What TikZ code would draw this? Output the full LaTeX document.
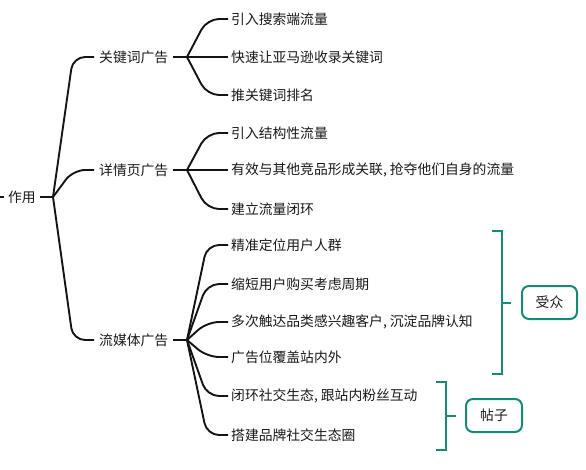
\documentclass[tikz,border=0pt]{standalone}
\usepackage{fontspec}
\newfontfamily\cjk{Noto Sans CJK SC}
\definecolor{textc}{RGB}{25,25,25}
\definecolor{tealc}{RGB}{22,138,118}
\begin{document}
\begin{tikzpicture}[x=1pt,y=-1pt,
  txt/.style={font=\cjk\fontsize{13.8}{16}\selectfont, text=textc, inner ysep=0pt, anchor=west},
  conn/.style={draw=black!92, line width=1.9pt, rounded corners=12pt},
  brk/.style={draw=tealc, line width=2pt},
  tagbox/.style={draw=tealc, line width=2pt, rounded corners=7pt, font=\cjk\fontsize{13.8}{16}\selectfont, text=textc, minimum height=33pt, inner sep=0pt}]
\useasboundingbox (0,0) rectangle (586,469);
% root
\node[txt, inner xsep=4pt] (root) at (4,197) {作用};
\coordinate (lin) at (0,197);
\coordinate (b0) at (53,197);
\draw[conn] (lin) -- (root.west);
\draw[conn] (root.east) -- (b0);
% level 1
\node[txt, inner xsep=5pt] (k1) at (94,57) {关键词广告};
\node[txt, inner xsep=5pt] (k2) at (94,170) {详情页广告};
\node[txt, inner xsep=5pt] (k3) at (94,340) {流媒体广告};
\coordinate (b1) at (187,57);
\coordinate (b2) at (187,170);
\coordinate (b3) at (187,340);
\foreach \k/\b in {k1/b1,k2/b2,k3/b3}{
  \draw[conn] (b0) -- ([xshift=-21pt]\k.west) -- (\k.west);
  \draw[conn] (\k.east) -- (\b);
}
% level 2
\node[txt, inner xsep=3pt] (c1) at (228,19) {引入搜索端流量};
\node[txt, inner xsep=3pt] (c2) at (228,57) {快速让亚马逊收录关键词};
\node[txt, inner xsep=3pt] (c3) at (228,95) {推关键词排名};
\node[txt, inner xsep=3pt] (c4) at (228,133) {引入结构性流量};
\node[txt, inner xsep=3pt] (c5) at (228,170) {有效与其他竞品形成关联, 抢夺他们自身的流量};
\node[txt, inner xsep=3pt] (c6) at (228,209) {建立流量闭环};
\node[txt, inner xsep=3pt] (c7) at (228,245) {精准定位用户人群};
\node[txt, inner xsep=3pt] (c8) at (228,284) {缩短用户购买考虑周期};
\node[txt, inner xsep=3pt] (c9) at (228,322) {多次触达品类感兴趣客户, 沉淀品牌认知};
\node[txt, inner xsep=3pt] (c10) at (228,357) {广告位覆盖站内外};
\node[txt, inner xsep=3pt] (c11) at (228,396) {闭环社交生态, 跟站内粉丝互动};
\node[txt, inner xsep=3pt] (c12) at (228,435) {搭建品牌社交生态圈};
\foreach \b/\c in {b1/c1,b1/c2,b1/c3,b2/c4,b2/c5,b2/c6,b3/c7,b3/c8,b3/c9,b3/c10,b3/c11,b3/c12}{
  \draw[conn] (\b) -- ([xshift=-21pt]\c.west) -- (\c.west);
}
% brackets
\node[tagbox, minimum width=55pt] (aud) at (549.5,302.5) {受众};
\node[tagbox, minimum width=56pt] (post) at (494,415.5) {帖子};
\draw[brk] (492,231) -- (502,231) -- (502,374) -- (492,374);
\coordinate (t1) at (502,302.5);
\draw[brk] (t1) -- ([xshift=-10pt]aud.west);
\draw[brk] (436,382) -- (446,382) -- (446,450) -- (436,450);
\coordinate (t2) at (446,415.5);
\draw[brk] (t2) -- ([xshift=-9pt]post.west);
\end{tikzpicture}
\end{document}
